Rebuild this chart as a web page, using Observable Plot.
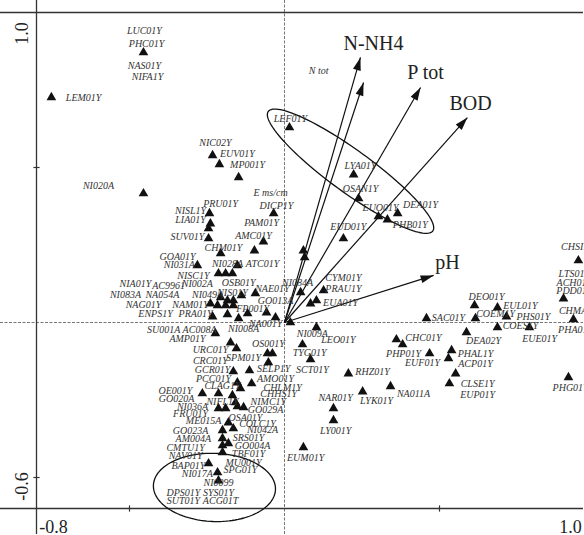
<!DOCTYPE html>
<html><head><meta charset="utf-8">
<script src="https://cdn.jsdelivr.net/npm/d3@7"></script>
<script src="https://cdn.jsdelivr.net/npm/@observablehq/plot@0.6"></script>
<style>body{margin:0;background:#fff;}</style>
</head><body><div id="chart"></div>
<script>
// Site scores (triangles), axis 1 / axis 2
const sitePoints = [
[-0.752,0.726],[-0.455,0.871],[0.016,0.629],[-0.232,0.539],[-0.210,0.510],[-0.148,0.468],[-0.455,0.416],
[-0.035,0.352],[-0.242,0.352],[-0.239,0.319],[-0.245,0.303],[-0.245,0.271],[-0.068,0.261],[-0.097,0.232],
[-0.206,0.223],[-0.281,0.184],[-0.152,0.184],[-0.213,0.158],[-0.190,0.158],[-0.168,0.158],[-0.094,0.094],
[-0.206,0.081],[-0.184,0.071],[-0.165,0.071],[-0.139,0.087],[-0.058,0.032],[-0.119,0.029],[-0.029,0.016],
[0.052,0.097],[0.126,0.103],[0.084,0.061],[0.103,0.071],[0.103,-0.016],[0.190,0.271],[0.223,0.477],
[0.239,0.400],[0.303,0.342],[0.332,0.332],[0.365,0.352],[-0.223,-0.035],[-0.174,-0.065],[-0.155,-0.084],
[-0.055,-0.100],[-0.039,-0.100],[-0.052,-0.129],[-0.165,-0.158],[-0.113,-0.155],[-0.152,-0.194],[-0.142,-0.213],
[-0.106,-0.197],[-0.265,-0.229],[-0.213,-0.229],[-0.168,-0.235],[-0.158,-0.258],[-0.213,-0.277],[-0.190,-0.277],
[-0.152,-0.271],[-0.132,-0.274],[-0.181,-0.323],[-0.165,-0.342],[-0.200,-0.348],[-0.200,-0.374],[-0.181,-0.390],
[-0.200,-0.397],[-0.200,-0.419],[-0.245,-0.455],[-0.216,-0.484],[-0.213,-0.510],[0.058,-0.071],[0.084,-0.119],
[0.206,-0.165],[0.158,-0.277],[0.252,-0.223],[0.342,-0.206],[0.158,-0.316],[0.061,-0.403],[0.361,-0.055],
[0.381,-0.071],[0.468,-0.100],[0.458,0.013],[0.613,0.055],[0.687,0.048],[0.616,0.013],[0.716,0.019],
[0.687,-0.016],[0.790,-0.016],[0.587,-0.032],[0.539,-0.090],[0.529,-0.116],[0.552,-0.165],[0.532,-0.197],
[0.948,0.200],[0.900,0.077],[0.932,0.010],[0.916,-0.177],[0.019,0.000],[0.061,0.232],[0.065,0.210],
[-0.239,0.061],[-0.216,0.055],[-0.190,0.055],[-0.165,0.055],[-0.232,0.019],[-0.184,0.026],[-0.148,0.013]
];

// Site labels: text, position of label centre
const siteLabels = [
["LUC01Y",-0.452,0.942],["PHC01Y",-0.445,0.900],["NAS01Y",-0.452,0.829],["NIFA1Y",-0.442,0.794],
["LEM01Y",-0.648,0.726],["LEF01Y",0.019,0.658],["NIC02Y",-0.223,0.581],["EUV01Y",-0.152,0.545],
["MP001Y",-0.119,0.510],["NI020A",-0.600,0.442],["DICP1Y",-0.026,0.377],["PRU01Y",-0.206,0.384],
["NISL1Y",-0.303,0.361],["PAM01Y",-0.074,0.323],["LIA01Y",-0.303,0.332],["AMC01Y",-0.100,0.281],
["SUV01Y",-0.313,0.277],["CHM01Y",-0.197,0.242],["GOA01Y",-0.345,0.213],["NI031A",-0.339,0.187],
["NI028A",-0.184,0.190],["ATC01Y",-0.071,0.190],["NISC1Y",-0.294,0.152],["OSB01Y",-0.148,0.129],
["NI002A",-0.281,0.126],["NAE01Y",-0.039,0.110],["NIS01Y",-0.168,0.097],["NIA01Y",-0.481,0.126],
["AC9961",-0.374,0.119],["NI083A",-0.513,0.090],["NA054A",-0.394,0.090],["NI049A",-0.248,0.090],
["NAG01Y",-0.455,0.058],["NAM01Y",-0.303,0.058],["ENPS1Y",-0.416,0.029],["PRA01Y",-0.287,0.029],
["GO013A",-0.029,0.071],["FP001Y",-0.103,0.045],["NA001Y",-0.061,-0.003],["NI084A",0.042,0.129],
["CYM01Y",0.190,0.145],["PRAU1Y",0.190,0.110],["EUA01Y",0.181,0.065],["LYA01Y",0.245,0.506],
["OSAN1Y",0.245,0.432],["EUO01Y",0.310,0.371],["DEA01Y",0.439,0.381],["PHB01Y",0.406,0.316],
["EUD01Y",0.206,0.310],["SU001A",-0.390,-0.023],["AC008A",-0.274,-0.023],["NI008A",-0.132,-0.019],
["AMP01Y",-0.313,-0.052],["URC01Y",-0.239,-0.087],["OS001Y",-0.052,-0.068],["CRC01Y",-0.239,-0.123],
["SPM01Y",-0.132,-0.113],["GCR01Y",-0.232,-0.152],["SELP1Y",-0.035,-0.148],["PCC01Y",-0.229,-0.181],
["AMO01Y",-0.029,-0.181],["CLAG1Y",-0.200,-0.203],["OE001Y",-0.352,-0.219],["GO020A",-0.348,-0.245],
["CHLM1Y",-0.006,-0.210],["CHHS1Y",-0.019,-0.229],["NIFL1Y",-0.200,-0.255],["NIMC1Y",-0.052,-0.255],
["NI036A",-0.297,-0.271],["GO029A",-0.061,-0.281],["FRU01Y",-0.303,-0.294],["ME015A",-0.261,-0.316],
["OSA01Y",-0.126,-0.306],["COLC1Y",-0.087,-0.326],["NI042A",-0.071,-0.345],["GO023A",-0.303,-0.348],
["SRS01Y",-0.116,-0.371],["AM004A",-0.294,-0.374],["GO004A",-0.103,-0.397],["CMTU1Y",-0.319,-0.403],
["NAV01Y",-0.319,-0.429],["TBF01Y",-0.116,-0.423],["BAP01Y",-0.310,-0.461],["MU001Y",-0.132,-0.452],
["NI017A",-0.281,-0.487],["SPG01Y",-0.142,-0.474],["NI0099",-0.213,-0.516],["DPS01Y",-0.326,-0.548],
["SYS01Y",-0.213,-0.548],["SUT01Y",-0.326,-0.574],["ACG01T",-0.206,-0.574],["NI009A",0.090,-0.035],
["LEO01Y",0.174,-0.055],["TYG01Y",0.081,-0.097],["SCT01Y",0.090,-0.152],["RHZ01Y",0.284,-0.158],
["NAR01Y",0.165,-0.242],["LYK01Y",0.297,-0.252],["NA011A",0.416,-0.229],["LY001Y",0.165,-0.348],
["EUM01Y",0.068,-0.435],["CHC01Y",0.448,-0.048],["PHP01Y",0.384,-0.100],["EUF01Y",0.445,-0.129],
["SAC01Y",0.529,0.016],["DEO01Y",0.652,0.084],["EUL01Y",0.761,0.055],["COEM1Y",0.681,0.029],
["PHS01Y",0.803,0.019],["COES1Y",0.761,-0.010],["EUE01Y",0.823,-0.052],["DEA02Y",0.642,-0.058],
["PHAL1Y",0.616,-0.100],["ACP01Y",0.616,-0.132],["CLSE1Y",0.623,-0.197],["EUP01Y",0.623,-0.232],
["CHSI1Y",0.945,0.245],["LTS01Y",0.935,0.158],["ACH01Y",0.935,0.129],["PDD01Y",0.935,0.103],
["CHMA1Y",0.948,0.039],["PHA01Y",0.939,-0.023],["PHG01Y",0.923,-0.210]
];

// Environmental variables: biplot arrow tips
const envNames = ["N-NH4","N tot","P tot","BOD","pH"];
const envX = [0.245,0.255,0.439,0.590,0.481];
const envY = [0.855,0.774,0.758,0.661,0.152];
const envLabelX = [0.287,0.110,0.455,0.600,0.526];
const envLabelY = [0.900,0.813,0.806,0.706,0.194];
const envLabelBig = [true,false,true,true,true];
// passive variable label
const passiveLabels = [["E ms/cm",-0.045,0.419]];

// Group ellipses: centre x, centre y, semi-axis a, semi-axis b, rotation (deg)
const ellipses = [
  {cx:0.213, cy:0.488, a:0.328, b:0.068, rot:-36},
  {cx:-0.226, cy:-0.532, a:0.197, b:0.110, rot:-2}
];

// axis
const xDomain = [-0.8, 1.0];
const yDomain = [-0.6, 1.0];
const tickVals = [-0.5, 0.5];

const sites = sitePoints.map(([x,y]) => ({x,y}));
const labels = siteLabels.map(([t,x,y]) => ({t,x,y}));
const env = envNames.map((n,i) => ({n, x:envX[i], y:envY[i], lx:envLabelX[i], ly:envLabelY[i], big:envLabelBig[i],
  rot: Math.atan2(envX[i], envY[i])*180/Math.PI}));
// arrowhead symbol: apex at the anchor point, pointing up
const arrowHead = {draw(ctx) { ctx.moveTo(0, 0); ctx.lineTo(-4, 13); ctx.lineTo(4, 13); ctx.closePath(); }};
const ellPts = [];
ellipses.forEach((e,k) => {
  const r = e.rot*Math.PI/180;
  for (let i = 0; i <= 120; i++) {
    const t = i/120*2*Math.PI;
    const u = e.a*Math.cos(t), v = e.b*Math.sin(t);
    ellPts.push({k, x: e.cx + u*Math.cos(r) - v*Math.sin(r), y: e.cy + u*Math.sin(r) + v*Math.cos(r)});
  }
});

const serif = "'Liberation Serif', 'DejaVu Serif', serif";

const chart = Plot.plot({
  width: 584, height: 535,
  style: {background: "#fff", fontFamily: serif},
  x: {domain: xDomain, range: [36, 594], axis: null},
  y: {domain: yDomain, range: [508, 12], axis: null},
  marks: [
    Plot.ruleX([0], {stroke: "#777", strokeDasharray: "3,1.5", strokeWidth: 1}),
    Plot.ruleY([0], {stroke: "#777", strokeDasharray: "3,1.5", strokeWidth: 1}),
    // frame
    Plot.ruleY([yDomain[1], yDomain[0]], {stroke: "#333", strokeWidth: 1.3}),
    Plot.ruleX([xDomain[0], xDomain[1]], {stroke: "#333", strokeWidth: 1.3}),
    Plot.link(tickVals, {x1: d => d, x2: d => d, y1: yDomain[0]-0.01, y2: yDomain[0]+0.01, stroke: "#333", strokeWidth: 1.2}),
    Plot.link(tickVals, {y1: d => d, y2: d => d, x1: xDomain[0]-0.01, x2: xDomain[0]+0.01, stroke: "#333", strokeWidth: 1.2}),
    // axis end labels
    Plot.text([{x:xDomain[0], y:yDomain[1], t:"1.0"}], {x:"x", y:"y", text:"t", rotate:-90, dx:-14, dy:21, fontSize:18, fill:"#222"}),
    Plot.text([{x:xDomain[0], y:yDomain[0], t:"-0.6"}], {x:"x", y:"y", text:"t", rotate:-90, dx:-14, dy:-22, fontSize:18, fill:"#222"}),
    Plot.text([{x:xDomain[0], y:yDomain[0], t:"-0.8"}], {x:"x", y:"y", text:"t", dx:17, dy:19, fontSize:18, fill:"#222"}),
    Plot.text([{x:xDomain[1], y:yDomain[0], t:"1.0"}], {x:"x", y:"y", text:"t", dx:-24, dy:19, fontSize:18, fill:"#222"}),
    // ellipses
    Plot.line(ellPts, {x:"x", y:"y", z:"k", stroke:"#111", strokeWidth:1.3, curve:"linear"}),
    // env arrows
    Plot.link(env, {x1: 0, y1: 0, x2: "x", y2: "y", stroke: "#111", strokeWidth: 1.2}),
    Plot.dot(env, {x:"x", y:"y", rotate:"rot", symbol:arrowHead, fill:"#111", stroke:"none"}),
    // sites
    Plot.dot(sites, {x:"x", y:"y", symbol:"triangle", r:3.6, fill:"#111", stroke:"none"}),
    Plot.text(labels, {x:"x", y:"y", text:"t", fontSize:10, fontStyle:"italic", fill:"#333"}),
    Plot.text(env.filter(d => d.big), {x:"lx", y:"ly", text:"n", fontSize:20, fill:"#222"}),
    Plot.text(env.filter(d => !d.big), {x:"lx", y:"ly", text:"n", fontSize:10, fontStyle:"italic", fill:"#333"}),
    Plot.text(passiveLabels, {x: d => d[1], y: d => d[2], text: d => d[0], fontSize:10, fontStyle:"italic", fill:"#333"})
  ]
});
document.getElementById("chart").appendChild(chart);
</script>
</body></html>
